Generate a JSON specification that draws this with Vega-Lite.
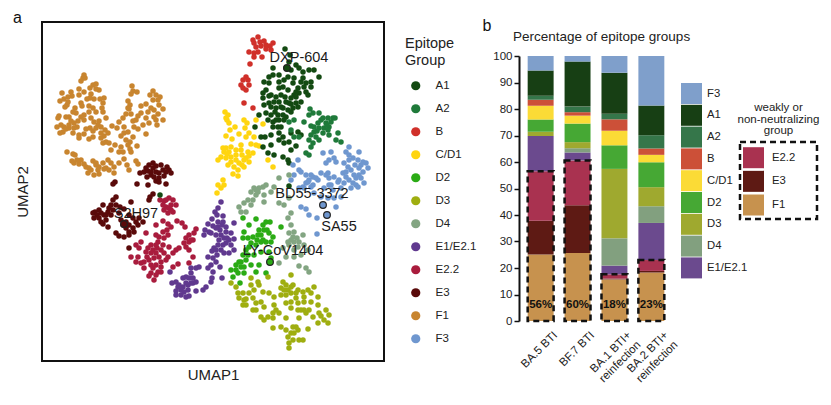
{
"$schema":"https://vega.github.io/schema/vega-lite/v6.json",
"description":"UMAP of antibody epitope groups and percentage of epitope groups per cohort.",
"padding":{"left":12,"top":9,"right":0,"bottom":0},
"background":"white",
"config":{"font":"Liberation Sans","axis":{"grid":false},"title":{"font":"Liberation Sans","fontWeight":"normal"}},
"spacing":4,
"resolve":{"scale":{"color":"independent"},"legend":{"color":"independent"}},
"datasets":{
"mabs":[
{"name":"DXP-604","x":286,"y":68,"g":"A1","lx":298,"ly":58},
{"name":"BD55-3372","x":322,"y":205,"g":"F3","lx":311,"ly":194},
{"name":"SA55","x":326,"y":215,"g":"F3","lx":338,"ly":227},
{"name":"LY-CoV1404","x":269,"y":262,"g":"D2","lx":282,"ly":251},
{"name":"S2H97","x":123,"y":224,"g":"E3","lx":135,"ly":214}
],
"points":[
{"x":83,"y":75,"g":"F1"},{"x":82,"y":78,"g":"F1"},{"x":80,"y":81,"g":"F1"},{"x":84,"y":78,"g":"F1"},{"x":92,"y":85,"g":"F1"},{"x":89,"y":88,"g":"F1"},{"x":95,"y":84,"g":"F1"},{"x":98,"y":90,"g":"F1"},{"x":95,"y":89,"g":"F1"},{"x":78,"y":89,"g":"F1"},{"x":83,"y":92,"g":"F1"},{"x":78,"y":95,"g":"F1"},{"x":61,"y":93,"g":"F1"},{"x":70,"y":92,"g":"F1"},{"x":71,"y":96,"g":"F1"},{"x":67,"y":97,"g":"F1"},{"x":63,"y":99,"g":"F1"},{"x":59,"y":101,"g":"F1"},{"x":66,"y":105,"g":"F1"},{"x":67,"y":102,"g":"F1"},{"x":64,"y":107,"g":"F1"},{"x":80,"y":103,"g":"F1"},{"x":81,"y":106,"g":"F1"},{"x":74,"y":108,"g":"F1"},{"x":90,"y":94,"g":"F1"},{"x":93,"y":99,"g":"F1"},{"x":89,"y":98,"g":"F1"},{"x":103,"y":98,"g":"F1"},{"x":102,"y":103,"g":"F1"},{"x":101,"y":108,"g":"F1"},{"x":88,"y":106,"g":"F1"},{"x":92,"y":108,"g":"F1"},{"x":83,"y":115,"g":"F1"},{"x":80,"y":117,"g":"F1"},{"x":77,"y":121,"g":"F1"},{"x":73,"y":123,"g":"F1"},{"x":68,"y":117,"g":"F1"},{"x":65,"y":117,"g":"F1"},{"x":58,"y":116,"g":"F1"},{"x":57,"y":118,"g":"F1"},{"x":70,"y":121,"g":"F1"},{"x":83,"y":120,"g":"F1"},{"x":88,"y":112,"g":"F1"},{"x":95,"y":112,"g":"F1"},{"x":102,"y":112,"g":"F1"},{"x":105,"y":118,"g":"F1"},{"x":98,"y":121,"g":"F1"},{"x":97,"y":125,"g":"F1"},{"x":100,"y":127,"g":"F1"},{"x":89,"y":128,"g":"F1"},{"x":85,"y":129,"g":"F1"},{"x":111,"y":126,"g":"F1"},{"x":107,"y":133,"g":"F1"},{"x":103,"y":136,"g":"F1"},{"x":100,"y":133,"g":"F1"},{"x":105,"y":142,"g":"F1"},{"x":102,"y":143,"g":"F1"},{"x":108,"y":143,"g":"F1"},{"x":92,"y":137,"g":"F1"},{"x":88,"y":139,"g":"F1"},{"x":83,"y":134,"g":"F1"},{"x":78,"y":135,"g":"F1"},{"x":78,"y":138,"g":"F1"},{"x":72,"y":133,"g":"F1"},{"x":68,"y":128,"g":"F1"},{"x":63,"y":127,"g":"F1"},{"x":60,"y":125,"g":"F1"},{"x":56,"y":127,"g":"F1"},{"x":62,"y":132,"g":"F1"},{"x":59,"y":133,"g":"F1"},{"x":65,"y":129,"g":"F1"},{"x":73,"y":128,"g":"F1"},
{"x":131,"y":86,"g":"F1"},{"x":132,"y":91,"g":"F1"},{"x":130,"y":94,"g":"F1"},{"x":136,"y":92,"g":"F1"},{"x":127,"y":101,"g":"F1"},{"x":129,"y":105,"g":"F1"},{"x":128,"y":109,"g":"F1"},{"x":130,"y":114,"g":"F1"},{"x":125,"y":114,"g":"F1"},{"x":122,"y":118,"g":"F1"},{"x":118,"y":122,"g":"F1"},{"x":116,"y":128,"g":"F1"},{"x":123,"y":127,"g":"F1"},{"x":123,"y":133,"g":"F1"},{"x":120,"y":136,"g":"F1"},{"x":127,"y":132,"g":"F1"},{"x":133,"y":127,"g":"F1"},{"x":132,"y":121,"g":"F1"},{"x":140,"y":106,"g":"F1"},{"x":145,"y":104,"g":"F1"},{"x":152,"y":91,"g":"F1"},{"x":155,"y":95,"g":"F1"},{"x":159,"y":97,"g":"F1"},{"x":149,"y":95,"g":"F1"},{"x":152,"y":100,"g":"F1"},{"x":157,"y":100,"g":"F1"},{"x":158,"y":105,"g":"F1"},{"x":162,"y":109,"g":"F1"},{"x":147,"y":112,"g":"F1"},{"x":153,"y":117,"g":"F1"},{"x":157,"y":114,"g":"F1"},{"x":162,"y":120,"g":"F1"},{"x":145,"y":118,"g":"F1"},{"x":142,"y":125,"g":"F1"},{"x":148,"y":123,"g":"F1"},{"x":156,"y":125,"g":"F1"},{"x":137,"y":116,"g":"F1"},{"x":137,"y":129,"g":"F1"},{"x":132,"y":137,"g":"F1"},{"x":129,"y":142,"g":"F1"},{"x":125,"y":140,"g":"F1"},{"x":127,"y":145,"g":"F1"},{"x":136,"y":146,"g":"F1"},{"x":129,"y":149,"g":"F1"},{"x":145,"y":134,"g":"F1"},{"x":114,"y":145,"g":"F1"},{"x":120,"y":147,"g":"F1"},{"x":118,"y":152,"g":"F1"},{"x":110,"y":150,"g":"F1"},{"x":122,"y":152,"g":"F1"},
{"x":66,"y":152,"g":"F1"},{"x":72,"y":154,"g":"F1"},{"x":74,"y":155,"g":"F1"},{"x":71,"y":161,"g":"F1"},{"x":73,"y":163,"g":"F1"},{"x":78,"y":164,"g":"F1"},{"x":83,"y":164,"g":"F1"},{"x":85,"y":167,"g":"F1"},{"x":92,"y":161,"g":"F1"},{"x":95,"y":165,"g":"F1"},{"x":98,"y":167,"g":"F1"},{"x":102,"y":163,"g":"F1"},{"x":107,"y":160,"g":"F1"},{"x":110,"y":163,"g":"F1"},{"x":113,"y":167,"g":"F1"},{"x":97,"y":170,"g":"F1"},{"x":90,"y":170,"g":"F1"},{"x":87,"y":173,"g":"F1"},{"x":93,"y":175,"g":"F1"},{"x":98,"y":174,"g":"F1"},{"x":105,"y":168,"g":"F1"},{"x":113,"y":173,"g":"F1"},{"x":118,"y":163,"g":"F1"},{"x":123,"y":159,"g":"F1"},{"x":126,"y":165,"g":"F1"},{"x":128,"y":170,"g":"F1"},{"x":135,"y":161,"g":"F1"},{"x":137,"y":164,"g":"F1"},{"x":130,"y":152,"g":"F1"},
{"x":75,"y":113,"g":"F1"},{"x":72,"y":112,"g":"F1"},{"x":90,"y":118,"g":"F1"},{"x":93,"y":122,"g":"F1"},{"x":95,"y":128,"g":"F1"},{"x":92,"y":131,"g":"F1"},{"x":100,"y":138,"g":"F1"},{"x":104,"y":130,"g":"F1"},{"x":76,"y":127,"g":"F1"},{"x":68,"y":125,"g":"F1"},{"x":86,"y":99,"g":"F1"},{"x":99,"y":99,"g":"F1"},{"x":127,"y":108,"g":"F1"},{"x":135,"y":120,"g":"F1"},{"x":150,"y":108,"g":"F1"},{"x":153,"y":110,"g":"F1"},{"x":155,"y":120,"g":"F1"},{"x":95,"y":163,"g":"F1"},{"x":88,"y":168,"g":"F1"},{"x":80,"y":160,"g":"F1"},{"x":76,"y":160,"g":"F1"},{"x":103,"y":169,"g":"F1"},{"x":108,"y":170,"g":"F1"},{"x":140,"y":113,"g":"F1"},
{"x":152,"y":163,"g":"E3"},{"x":148,"y":165,"g":"E3"},{"x":145,"y":168,"g":"E3"},{"x":139,"y":173,"g":"E3"},{"x":143,"y":172,"g":"E3"},{"x":147,"y":171,"g":"E3"},{"x":152,"y":168,"g":"E3"},{"x":155,"y":166,"g":"E3"},{"x":160,"y":165,"g":"E3"},{"x":166,"y":167,"g":"E3"},{"x":168,"y":170,"g":"E3"},{"x":170,"y":173,"g":"E3"},{"x":165,"y":172,"g":"E3"},{"x":162,"y":170,"g":"E3"},{"x":158,"y":173,"g":"E3"},{"x":155,"y":172,"g":"E3"},{"x":150,"y":175,"g":"E3"},{"x":146,"y":177,"g":"E3"},{"x":158,"y":178,"g":"E3"},{"x":155,"y":181,"g":"E3"},{"x":114,"y":182,"g":"E3"},{"x":112,"y":184,"g":"E3"},{"x":136,"y":184,"g":"E3"},{"x":147,"y":185,"g":"E3"},{"x":158,"y":182,"g":"E3"},{"x":165,"y":184,"g":"E3"},{"x":152,"y":194,"g":"E3"},{"x":149,"y":197,"g":"E3"},{"x":148,"y":200,"g":"E3"},
{"x":115,"y":197,"g":"E3"},{"x":112,"y":200,"g":"E3"},{"x":110,"y":205,"g":"E3"},{"x":115,"y":205,"g":"E3"},{"x":119,"y":207,"g":"E3"},{"x":130,"y":202,"g":"E3"},{"x":102,"y":205,"g":"E3"},{"x":98,"y":210,"g":"E3"},{"x":94,"y":212,"g":"E3"},{"x":92,"y":213,"g":"E3"},{"x":96,"y":215,"g":"E3"},{"x":93,"y":218,"g":"E3"},{"x":98,"y":218,"g":"E3"},{"x":103,"y":215,"g":"E3"},{"x":107,"y":212,"g":"E3"},{"x":110,"y":215,"g":"E3"},{"x":118,"y":213,"g":"E3"},{"x":123,"y":209,"g":"E3"},{"x":128,"y":215,"g":"E3"},{"x":132,"y":218,"g":"E3"},{"x":100,"y":222,"g":"E3"},{"x":105,"y":220,"g":"E3"},{"x":102,"y":224,"g":"E3"},{"x":107,"y":227,"g":"E3"},{"x":122,"y":225,"g":"E3"},{"x":125,"y":228,"g":"E3"},{"x":128,"y":232,"g":"E3"},{"x":132,"y":228,"g":"E3"},{"x":137,"y":225,"g":"E3"},{"x":142,"y":222,"g":"E3"},{"x":138,"y":218,"g":"E3"},{"x":115,"y":233,"g":"E3"},{"x":118,"y":236,"g":"E3"},{"x":123,"y":237,"g":"E3"},{"x":128,"y":235,"g":"E3"},{"x":133,"y":232,"g":"E3"},{"x":128,"y":248,"g":"E3"},
{"x":150,"y":172,"g":"E3"},{"x":153,"y":177,"g":"E3"},{"x":163,"y":176,"g":"E3"},{"x":108,"y":208,"g":"E3"},{"x":112,"y":210,"g":"E3"},{"x":100,"y":213,"g":"E3"},{"x":120,"y":220,"g":"E3"},{"x":125,"y":222,"g":"E3"},{"x":135,"y":222,"g":"E3"},{"x":128,"y":225,"g":"E3"},{"x":105,"y":215,"g":"E3"},
{"x":159,"y":200,"g":"E2.2"},{"x":163,"y":201,"g":"E2.2"},{"x":168,"y":198,"g":"E2.2"},{"x":172,"y":200,"g":"E2.2"},{"x":175,"y":205,"g":"E2.2"},{"x":170,"y":205,"g":"E2.2"},{"x":165,"y":207,"g":"E2.2"},{"x":162,"y":205,"g":"E2.2"},{"x":163,"y":210,"g":"E2.2"},{"x":167,"y":213,"g":"E2.2"},{"x":172,"y":212,"g":"E2.2"},{"x":168,"y":208,"g":"E2.2"},{"x":176,"y":221,"g":"E2.2"},{"x":181,"y":223,"g":"E2.2"},{"x":184,"y":227,"g":"E2.2"},{"x":155,"y":225,"g":"E2.2"},{"x":162,"y":221,"g":"E2.2"},{"x":167,"y":224,"g":"E2.2"},{"x":170,"y":227,"g":"E2.2"},{"x":166,"y":230,"g":"E2.2"},{"x":162,"y":232,"g":"E2.2"},{"x":167,"y":235,"g":"E2.2"},{"x":163,"y":238,"g":"E2.2"},{"x":158,"y":237,"g":"E2.2"},{"x":155,"y":235,"g":"E2.2"},{"x":157,"y":242,"g":"E2.2"},{"x":145,"y":233,"g":"E2.2"},{"x":195,"y":229,"g":"E2.2"},{"x":193,"y":233,"g":"E2.2"},{"x":188,"y":235,"g":"E2.2"},{"x":185,"y":238,"g":"E2.2"},{"x":188,"y":242,"g":"E2.2"},{"x":185,"y":247,"g":"E2.2"},{"x":188,"y":250,"g":"E2.2"},{"x":192,"y":257,"g":"E2.2"},{"x":192,"y":240,"g":"E2.2"},{"x":140,"y":242,"g":"E2.2"},{"x":135,"y":245,"g":"E2.2"},{"x":138,"y":248,"g":"E2.2"},{"x":137,"y":257,"g":"E2.2"},{"x":130,"y":257,"g":"E2.2"},{"x":135,"y":262,"g":"E2.2"},{"x":140,"y":263,"g":"E2.2"},{"x":147,"y":248,"g":"E2.2"},{"x":152,"y":250,"g":"E2.2"},{"x":156,"y":248,"g":"E2.2"},{"x":160,"y":250,"g":"E2.2"},{"x":155,"y":253,"g":"E2.2"},{"x":150,"y":253,"g":"E2.2"},{"x":146,"y":257,"g":"E2.2"},{"x":143,"y":262,"g":"E2.2"},{"x":148,"y":260,"g":"E2.2"},{"x":153,"y":258,"g":"E2.2"},{"x":158,"y":257,"g":"E2.2"},{"x":163,"y":253,"g":"E2.2"},{"x":168,"y":247,"g":"E2.2"},{"x":175,"y":250,"g":"E2.2"},{"x":178,"y":248,"g":"E2.2"},{"x":172,"y":253,"g":"E2.2"},{"x":167,"y":257,"g":"E2.2"},{"x":160,"y":262,"g":"E2.2"},{"x":155,"y":265,"g":"E2.2"},{"x":150,"y":265,"g":"E2.2"},{"x":143,"y":268,"g":"E2.2"},{"x":160,"y":267,"g":"E2.2"},{"x":157,"y":272,"g":"E2.2"},{"x":150,"y":273,"g":"E2.2"},{"x":155,"y":275,"g":"E2.2"},{"x":148,"y":276,"g":"E2.2"},{"x":153,"y":280,"g":"E2.2"},{"x":172,"y":267,"g":"E2.2"},{"x":177,"y":264,"g":"E2.2"},{"x":160,"y":272,"g":"E2.2"},{"x":188,"y":263,"g":"E2.2"},
{"x":165,"y":200,"g":"E2.2"},{"x":170,"y":210,"g":"E2.2"},{"x":150,"y":245,"g":"E2.2"},{"x":155,"y":245,"g":"E2.2"},{"x":162,"y":245,"g":"E2.2"},{"x":165,"y":260,"g":"E2.2"},{"x":152,"y":268,"g":"E2.2"},{"x":145,"y":252,"g":"E2.2"},{"x":183,"y":243,"g":"E2.2"},{"x":190,"y":240,"g":"E2.2"},
{"x":220,"y":202,"g":"E1/E2.1"},{"x":217,"y":208,"g":"E1/E2.1"},{"x":214,"y":212,"g":"E1/E2.1"},{"x":216,"y":215,"g":"E1/E2.1"},{"x":222,"y":216,"g":"E1/E2.1"},{"x":211,"y":219,"g":"E1/E2.1"},{"x":217,"y":222,"g":"E1/E2.1"},{"x":207,"y":224,"g":"E1/E2.1"},{"x":212,"y":226,"g":"E1/E2.1"},{"x":204,"y":230,"g":"E1/E2.1"},{"x":217,"y":227,"g":"E1/E2.1"},{"x":221,"y":225,"g":"E1/E2.1"},{"x":225,"y":227,"g":"E1/E2.1"},{"x":219,"y":230,"g":"E1/E2.1"},{"x":225,"y":232,"g":"E1/E2.1"},{"x":230,"y":233,"g":"E1/E2.1"},{"x":233,"y":223,"g":"E1/E2.1"},{"x":203,"y":235,"g":"E1/E2.1"},{"x":210,"y":233,"g":"E1/E2.1"},{"x":215,"y":235,"g":"E1/E2.1"},{"x":220,"y":235,"g":"E1/E2.1"},{"x":223,"y":238,"g":"E1/E2.1"},{"x":218,"y":240,"g":"E1/E2.1"},{"x":225,"y":243,"g":"E1/E2.1"},{"x":228,"y":240,"g":"E1/E2.1"},{"x":230,"y":245,"g":"E1/E2.1"},{"x":217,"y":245,"g":"E1/E2.1"},{"x":213,"y":248,"g":"E1/E2.1"},{"x":211,"y":251,"g":"E1/E2.1"},{"x":215,"y":250,"g":"E1/E2.1"},{"x":220,"y":250,"g":"E1/E2.1"},{"x":223,"y":253,"g":"E1/E2.1"},{"x":228,"y":253,"g":"E1/E2.1"},{"x":233,"y":250,"g":"E1/E2.1"},{"x":233,"y":239,"g":"E1/E2.1"},{"x":207,"y":257,"g":"E1/E2.1"},{"x":212,"y":258,"g":"E1/E2.1"},{"x":215,"y":262,"g":"E1/E2.1"},{"x":210,"y":265,"g":"E1/E2.1"},{"x":207,"y":268,"g":"E1/E2.1"},{"x":212,"y":272,"g":"E1/E2.1"},{"x":198,"y":267,"g":"E1/E2.1"},{"x":195,"y":268,"g":"E1/E2.1"},{"x":219,"y":267,"g":"E1/E2.1"},{"x":221,"y":278,"g":"E1/E2.1"},{"x":211,"y":278,"g":"E1/E2.1"},{"x":210,"y":282,"g":"E1/E2.1"},{"x":169,"y":272,"g":"E1/E2.1"},{"x":190,"y":268,"g":"E1/E2.1"},{"x":190,"y":273,"g":"E1/E2.1"},{"x":185,"y":277,"g":"E1/E2.1"},{"x":188,"y":278,"g":"E1/E2.1"},{"x":192,"y":278,"g":"E1/E2.1"},{"x":195,"y":282,"g":"E1/E2.1"},{"x":192,"y":283,"g":"E1/E2.1"},{"x":182,"y":278,"g":"E1/E2.1"},{"x":175,"y":282,"g":"E1/E2.1"},{"x":171,"y":283,"g":"E1/E2.1"},{"x":177,"y":287,"g":"E1/E2.1"},{"x":175,"y":291,"g":"E1/E2.1"},{"x":182,"y":287,"g":"E1/E2.1"},{"x":187,"y":285,"g":"E1/E2.1"},{"x":187,"y":290,"g":"E1/E2.1"},{"x":195,"y":291,"g":"E1/E2.1"},{"x":202,"y":290,"g":"E1/E2.1"},{"x":205,"y":287,"g":"E1/E2.1"},{"x":188,"y":296,"g":"E1/E2.1"},{"x":185,"y":297,"g":"E1/E2.1"},{"x":180,"y":295,"g":"E1/E2.1"},{"x":175,"y":295,"g":"E1/E2.1"},{"x":180,"y":290,"g":"E1/E2.1"},
{"x":222,"y":222,"g":"E1/E2.1"},{"x":215,"y":228,"g":"E1/E2.1"},{"x":222,"y":245,"g":"E1/E2.1"},{"x":208,"y":232,"g":"E1/E2.1"},{"x":226,"y":238,"g":"E1/E2.1"},{"x":216,"y":255,"g":"E1/E2.1"},{"x":190,"y":283,"g":"E1/E2.1"},{"x":185,"y":283,"g":"E1/E2.1"},{"x":178,"y":285,"g":"E1/E2.1"},{"x":183,"y":292,"g":"E1/E2.1"},
{"x":224,"y":112,"g":"C/D1"},{"x":227,"y":115,"g":"C/D1"},{"x":226,"y":120,"g":"C/D1"},{"x":228,"y":123,"g":"C/D1"},{"x":225,"y":118,"g":"C/D1"},{"x":243,"y":120,"g":"C/D1"},{"x":246,"y":123,"g":"C/D1"},{"x":244,"y":128,"g":"C/D1"},{"x":248,"y":133,"g":"C/D1"},{"x":253,"y":137,"g":"C/D1"},{"x":255,"y":120,"g":"C/D1"},{"x":262,"y":124,"g":"C/D1"},{"x":234,"y":127,"g":"C/D1"},{"x":229,"y":130,"g":"C/D1"},{"x":225,"y":136,"g":"C/D1"},{"x":231,"y":139,"g":"C/D1"},{"x":238,"y":134,"g":"C/D1"},{"x":245,"y":137,"g":"C/D1"},{"x":250,"y":144,"g":"C/D1"},{"x":255,"y":145,"g":"C/D1"},{"x":258,"y":146,"g":"C/D1"},{"x":240,"y":145,"g":"C/D1"},{"x":230,"y":147,"g":"C/D1"},{"x":222,"y":148,"g":"C/D1"},{"x":223,"y":152,"g":"C/D1"},{"x":228,"y":152,"g":"C/D1"},{"x":220,"y":157,"g":"C/D1"},{"x":217,"y":160,"g":"C/D1"},{"x":225,"y":158,"g":"C/D1"},{"x":230,"y":157,"g":"C/D1"},{"x":235,"y":155,"g":"C/D1"},{"x":241,"y":155,"g":"C/D1"},{"x":247,"y":152,"g":"C/D1"},{"x":252,"y":153,"g":"C/D1"},{"x":230,"y":162,"g":"C/D1"},{"x":227,"y":165,"g":"C/D1"},{"x":233,"y":167,"g":"C/D1"},{"x":238,"y":163,"g":"C/D1"},{"x":243,"y":160,"g":"C/D1"},{"x":248,"y":162,"g":"C/D1"},{"x":237,"y":170,"g":"C/D1"},{"x":232,"y":174,"g":"C/D1"},{"x":237,"y":176,"g":"C/D1"},{"x":243,"y":167,"g":"C/D1"},{"x":267,"y":160,"g":"C/D1"},{"x":272,"y":167,"g":"C/D1"},{"x":222,"y":180,"g":"C/D1"},{"x":217,"y":185,"g":"C/D1"},{"x":223,"y":185,"g":"C/D1"},{"x":220,"y":188,"g":"C/D1"},{"x":216,"y":193,"g":"C/D1"},
{"x":235,"y":150,"g":"C/D1"},{"x":240,"y":150,"g":"C/D1"},{"x":245,"y":158,"g":"C/D1"},{"x":235,"y":160,"g":"C/D1"},{"x":225,"y":148,"g":"C/D1"},{"x":241,"y":165,"g":"C/D1"},{"x":226,"y":154,"g":"C/D1"},{"x":248,"y":156,"g":"C/D1"},
{"x":257,"y":37,"g":"B"},{"x":252,"y":40,"g":"B"},{"x":253,"y":43,"g":"B"},{"x":259,"y":42,"g":"B"},{"x":263,"y":41,"g":"B"},{"x":272,"y":43,"g":"B"},{"x":269,"y":46,"g":"B"},{"x":265,"y":45,"g":"B"},{"x":260,"y":46,"g":"B"},{"x":255,"y":47,"g":"B"},{"x":248,"y":52,"g":"B"},{"x":253,"y":53,"g":"B"},{"x":257,"y":52,"g":"B"},{"x":261,"y":57,"g":"B"},{"x":270,"y":50,"g":"B"},{"x":265,"y":49,"g":"B"},{"x":253,"y":57,"g":"B"},{"x":249,"y":64,"g":"B"},{"x":245,"y":77,"g":"B"},{"x":242,"y":80,"g":"B"},{"x":240,"y":85,"g":"B"},{"x":242,"y":88,"g":"B"},{"x":245,"y":90,"g":"B"},{"x":248,"y":85,"g":"B"},{"x":247,"y":80,"g":"B"},{"x":243,"y":103,"g":"B"},{"x":252,"y":108,"g":"B"},
{"x":284,"y":49,"g":"A1"},{"x":289,"y":55,"g":"A1"},{"x":288,"y":62,"g":"A1"},{"x":285,"y":68,"g":"A1"},{"x":278,"y":75,"g":"A1"},{"x":272,"y":68,"g":"A1"},{"x":268,"y":77,"g":"A1"},{"x":263,"y":82,"g":"A1"},{"x":268,"y":83,"g":"A1"},{"x":265,"y":90,"g":"A1"},{"x":262,"y":93,"g":"A1"},{"x":272,"y":75,"g":"A1"},{"x":290,"y":70,"g":"A1"},{"x":295,"y":65,"g":"A1"},{"x":298,"y":68,"g":"A1"},{"x":302,"y":72,"g":"A1"},{"x":308,"y":70,"g":"A1"},{"x":313,"y":70,"g":"A1"},{"x":318,"y":77,"g":"A1"},{"x":310,"y":82,"g":"A1"},{"x":305,"y":83,"g":"A1"},{"x":300,"y":82,"g":"A1"},{"x":293,"y":78,"g":"A1"},{"x":287,"y":77,"g":"A1"},{"x":292,"y":83,"g":"A1"},{"x":278,"y":88,"g":"A1"},{"x":282,"y":87,"g":"A1"},{"x":297,"y":88,"g":"A1"},{"x":303,"y":87,"g":"A1"},{"x":298,"y":93,"g":"A1"},{"x":293,"y":95,"g":"A1"},{"x":290,"y":98,"g":"A1"},{"x":288,"y":103,"g":"A1"},{"x":285,"y":102,"g":"A1"},{"x":278,"y":102,"g":"A1"},{"x":273,"y":102,"g":"A1"},{"x":268,"y":103,"g":"A1"},{"x":263,"y":105,"g":"A1"},{"x":262,"y":98,"g":"A1"},{"x":270,"y":107,"g":"A1"},{"x":275,"y":108,"g":"A1"},{"x":282,"y":108,"g":"A1"},{"x":292,"y":108,"g":"A1"},{"x":297,"y":107,"g":"A1"},{"x":300,"y":102,"g":"A1"},{"x":295,"y":103,"g":"A1"},{"x":305,"y":92,"g":"A1"},{"x":307,"y":95,"g":"A1"},{"x":310,"y":87,"g":"A1"},{"x":265,"y":113,"g":"A1"},{"x":270,"y":115,"g":"A1"},{"x":277,"y":115,"g":"A1"},{"x":282,"y":115,"g":"A1"},{"x":287,"y":110,"g":"A1"},{"x":290,"y":112,"g":"A1"},{"x":267,"y":120,"g":"A1"},{"x":272,"y":122,"g":"A1"},{"x":278,"y":120,"g":"A1"},{"x":285,"y":117,"g":"A1"},{"x":272,"y":127,"g":"A1"},{"x":277,"y":127,"g":"A1"},{"x":283,"y":120,"g":"A1"},{"x":258,"y":115,"g":"A1"},{"x":254,"y":127,"g":"A1"},{"x":260,"y":137,"g":"A1"},{"x":264,"y":137,"g":"A1"},{"x":270,"y":135,"g":"A1"},{"x":278,"y":133,"g":"A1"},{"x":282,"y":137,"g":"A1"},{"x":290,"y":133,"g":"A1"},{"x":297,"y":132,"g":"A1"},{"x":300,"y":135,"g":"A1"},{"x":288,"y":142,"g":"A1"},{"x":283,"y":143,"g":"A1"},{"x":278,"y":140,"g":"A1"},{"x":270,"y":145,"g":"A1"},{"x":262,"y":147,"g":"A1"},{"x":267,"y":153,"g":"A1"},{"x":273,"y":155,"g":"A1"},{"x":282,"y":157,"g":"A1"},{"x":290,"y":150,"g":"A1"},{"x":295,"y":146,"g":"A1"},{"x":287,"y":160,"g":"A1"},{"x":288,"y":163,"g":"A1"},{"x":288,"y":186,"g":"A1"},{"x":159,"y":195,"g":"A1"},
{"x":280,"y":95,"g":"A1"},{"x":284,"y":97,"g":"A1"},{"x":275,"y":97,"g":"A1"},{"x":280,"y":107,"g":"A1"},{"x":287,"y":90,"g":"A1"},{"x":295,"y":92,"g":"A1"},{"x":283,"y":80,"g":"A1"},{"x":278,"y":82,"g":"A1"},{"x":270,"y":95,"g":"A1"},{"x":268,"y":96,"g":"A1"},{"x":295,"y":97,"g":"A1"},{"x":290,"y":104,"g":"A1"},{"x":275,"y":120,"g":"A1"},{"x":280,"y":127,"g":"A1"},{"x":302,"y":78,"g":"A1"},{"x":274,"y":112,"g":"A1"},
{"x":309,"y":109,"g":"A2"},{"x":312,"y":113,"g":"A2"},{"x":308,"y":115,"g":"A2"},{"x":318,"y":113,"g":"A2"},{"x":320,"y":120,"g":"A2"},{"x":327,"y":118,"g":"A2"},{"x":332,"y":118,"g":"A2"},{"x":334,"y":118,"g":"A2"},{"x":330,"y":122,"g":"A2"},{"x":325,"y":123,"g":"A2"},{"x":328,"y":127,"g":"A2"},{"x":323,"y":128,"g":"A2"},{"x":317,"y":123,"g":"A2"},{"x":313,"y":127,"g":"A2"},{"x":310,"y":126,"g":"A2"},{"x":313,"y":132,"g":"A2"},{"x":310,"y":135,"g":"A2"},{"x":315,"y":137,"g":"A2"},{"x":322,"y":133,"g":"A2"},{"x":327,"y":130,"g":"A2"},{"x":303,"y":122,"g":"A2"},{"x":293,"y":120,"g":"A2"},{"x":288,"y":122,"g":"A2"},{"x":308,"y":140,"g":"A2"},{"x":312,"y":143,"g":"A2"},{"x":310,"y":147,"g":"A2"},{"x":318,"y":140,"g":"A2"},{"x":328,"y":135,"g":"A2"},{"x":337,"y":133,"g":"A2"},{"x":335,"y":140,"g":"A2"},{"x":340,"y":142,"g":"A2"},{"x":305,"y":153,"g":"A2"},{"x":308,"y":155,"g":"A2"},{"x":290,"y":130,"g":"A2"},{"x":293,"y":137,"g":"A2"},{"x":298,"y":137,"g":"A2"},{"x":322,"y":118,"g":"A2"},{"x":326,"y":125,"g":"A2"},{"x":318,"y":128,"g":"A2"},{"x":316,"y":131,"g":"A2"},
{"x":348,"y":147,"g":"F3"},{"x":345,"y":152,"g":"F3"},{"x":348,"y":155,"g":"F3"},{"x":352,"y":158,"g":"F3"},{"x":358,"y":152,"g":"F3"},{"x":357,"y":160,"g":"F3"},{"x":360,"y":165,"g":"F3"},{"x":365,"y":163,"g":"F3"},{"x":367,"y":168,"g":"F3"},{"x":362,"y":172,"g":"F3"},{"x":358,"y":175,"g":"F3"},{"x":353,"y":175,"g":"F3"},{"x":350,"y":170,"g":"F3"},{"x":347,"y":167,"g":"F3"},{"x":343,"y":163,"g":"F3"},{"x":330,"y":152,"g":"F3"},{"x":322,"y":153,"g":"F3"},{"x":333,"y":158,"g":"F3"},{"x":328,"y":160,"g":"F3"},{"x":325,"y":163,"g":"F3"},{"x":335,"y":162,"g":"F3"},{"x":342,"y":173,"g":"F3"},{"x":345,"y":177,"g":"F3"},{"x":352,"y":183,"g":"F3"},{"x":357,"y":187,"g":"F3"},{"x":363,"y":183,"g":"F3"},{"x":350,"y":188,"g":"F3"},{"x":343,"y":183,"g":"F3"},{"x":338,"y":180,"g":"F3"},{"x":333,"y":177,"g":"F3"},{"x":327,"y":173,"g":"F3"},{"x":328,"y":178,"g":"F3"},{"x":320,"y":173,"g":"F3"},{"x":317,"y":180,"g":"F3"},{"x":312,"y":177,"g":"F3"},{"x":308,"y":180,"g":"F3"},{"x":305,"y":183,"g":"F3"},{"x":302,"y":187,"g":"F3"},{"x":310,"y":187,"g":"F3"},{"x":298,"y":170,"g":"F3"},{"x":293,"y":175,"g":"F3"},{"x":290,"y":180,"g":"F3"},{"x":297,"y":160,"g":"F3"},{"x":292,"y":165,"g":"F3"},{"x":300,"y":172,"g":"F3"},{"x":310,"y":175,"g":"F3"},{"x":307,"y":182,"g":"F3"},{"x":303,"y":188,"g":"F3"},{"x":312,"y":185,"g":"F3"},{"x":325,"y":175,"g":"F3"},{"x":328,"y":185,"g":"F3"},{"x":323,"y":188,"g":"F3"},{"x":332,"y":190,"g":"F3"},{"x":337,"y":182,"g":"F3"},{"x":348,"y":180,"g":"F3"},{"x":355,"y":185,"g":"F3"},{"x":333,"y":198,"g":"F3"},{"x":340,"y":197,"g":"F3"},{"x":327,"y":198,"g":"F3"},{"x":320,"y":197,"g":"F3"},{"x":313,"y":193,"g":"F3"},{"x":300,"y":207,"g":"F3"},{"x":305,"y":209,"g":"F3"},{"x":308,"y":215,"g":"F3"},{"x":316,"y":218,"g":"F3"},{"x":316,"y":234,"g":"F3"},{"x":298,"y":188,"g":"F3"},{"x":335,"y":207,"g":"F3"},
{"x":354,"y":165,"g":"F3"},{"x":358,"y":168,"g":"F3"},{"x":362,"y":162,"g":"F3"},{"x":355,"y":178,"g":"F3"},{"x":345,"y":172,"g":"F3"},{"x":330,"y":185,"g":"F3"},{"x":315,"y":178,"g":"F3"},{"x":305,"y":175,"g":"F3"},{"x":340,"y":188,"g":"F3"},{"x":360,"y":178,"g":"F3"},{"x":348,"y":160,"g":"F3"},
{"x":278,"y":178,"g":"D4"},{"x":288,"y":175,"g":"D4"},{"x":273,"y":187,"g":"D4"},{"x":265,"y":185,"g":"D4"},{"x":262,"y":187,"g":"D4"},{"x":253,"y":188,"g":"D4"},{"x":250,"y":192,"g":"D4"},{"x":255,"y":195,"g":"D4"},{"x":252,"y":200,"g":"D4"},{"x":247,"y":200,"g":"D4"},{"x":250,"y":205,"g":"D4"},{"x":243,"y":203,"g":"D4"},{"x":238,"y":207,"g":"D4"},{"x":240,"y":212,"g":"D4"},{"x":245,"y":212,"g":"D4"},{"x":263,"y":202,"g":"D4"},{"x":263,"y":195,"g":"D4"},{"x":270,"y":192,"g":"D4"},{"x":257,"y":192,"g":"D4"},{"x":278,"y":203,"g":"D4"},{"x":283,"y":205,"g":"D4"},{"x":288,"y":198,"g":"D4"},{"x":290,"y":213,"g":"D4"},{"x":287,"y":218,"g":"D4"},{"x":290,"y":225,"g":"D4"},{"x":293,"y":232,"g":"D4"},{"x":288,"y":233,"g":"D4"},{"x":292,"y":237,"g":"D4"},{"x":287,"y":242,"g":"D4"},{"x":282,"y":248,"g":"D4"},{"x":288,"y":245,"g":"D4"},{"x":293,"y":242,"g":"D4"},{"x":302,"y":235,"g":"D4"},{"x":298,"y":242,"g":"D4"},{"x":303,"y":245,"g":"D4"},{"x":307,"y":250,"g":"D4"},{"x":300,"y":255,"g":"D4"},{"x":293,"y":250,"g":"D4"},{"x":285,"y":257,"g":"D4"},{"x":278,"y":263,"g":"D4"},{"x":298,"y":266,"g":"D4"},{"x":305,"y":268,"g":"D4"},{"x":308,"y":272,"g":"D4"},{"x":293,"y":257,"g":"D4"},{"x":258,"y":188,"g":"D4"},{"x":255,"y":190,"g":"D4"},{"x":296,"y":238,"g":"D4"},{"x":290,"y":240,"g":"D4"},{"x":297,"y":247,"g":"D4"},
{"x":242,"y":218,"g":"D2"},{"x":255,"y":219,"g":"D2"},{"x":248,"y":225,"g":"D2"},{"x":243,"y":232,"g":"D2"},{"x":242,"y":238,"g":"D2"},{"x":247,"y":238,"g":"D2"},{"x":252,"y":237,"g":"D2"},{"x":257,"y":235,"g":"D2"},{"x":258,"y":230,"g":"D2"},{"x":265,"y":222,"g":"D2"},{"x":269,"y":222,"g":"D2"},{"x":263,"y":230,"g":"D2"},{"x":260,"y":235,"g":"D2"},{"x":268,"y":233,"g":"D2"},{"x":272,"y":237,"g":"D2"},{"x":280,"y":227,"g":"D2"},{"x":270,"y":242,"g":"D2"},{"x":265,"y":242,"g":"D2"},{"x":260,"y":242,"g":"D2"},{"x":255,"y":245,"g":"D2"},{"x":250,"y":243,"g":"D2"},{"x":245,"y":250,"g":"D2"},{"x":242,"y":255,"g":"D2"},{"x":247,"y":255,"g":"D2"},{"x":253,"y":255,"g":"D2"},{"x":260,"y":252,"g":"D2"},{"x":268,"y":252,"g":"D2"},{"x":270,"y":258,"g":"D2"},{"x":245,"y":260,"g":"D2"},{"x":238,"y":262,"g":"D2"},{"x":235,"y":265,"g":"D2"},{"x":240,"y":267,"g":"D2"},{"x":243,"y":267,"g":"D2"},{"x":230,"y":270,"g":"D2"},{"x":232,"y":277,"g":"D2"},{"x":237,"y":273,"g":"D2"},{"x":243,"y":273,"g":"D2"},{"x":255,"y":272,"g":"D2"},{"x":258,"y":265,"g":"D2"},{"x":250,"y":265,"g":"D2"},{"x":265,"y":273,"g":"D2"},{"x":239,"y":283,"g":"D2"},{"x":262,"y":225,"g":"D2"},{"x":266,"y":230,"g":"D2"},{"x":256,"y":240,"g":"D2"},{"x":248,"y":247,"g":"D2"},{"x":240,"y":262,"g":"D2"},{"x":235,"y":270,"g":"D2"},{"x":262,"y":240,"g":"D2"},
{"x":250,"y":278,"g":"D3"},{"x":257,"y":282,"g":"D3"},{"x":267,"y":277,"g":"D3"},{"x":230,"y":283,"g":"D3"},{"x":235,"y":287,"g":"D3"},{"x":250,"y":285,"g":"D3"},{"x":258,"y":285,"g":"D3"},{"x":253,"y":290,"g":"D3"},{"x":248,"y":293,"g":"D3"},{"x":237,"y":293,"g":"D3"},{"x":242,"y":293,"g":"D3"},{"x":243,"y":300,"g":"D3"},{"x":242,"y":305,"g":"D3"},{"x":245,"y":305,"g":"D3"},{"x":252,"y":298,"g":"D3"},{"x":262,"y":292,"g":"D3"},{"x":268,"y":293,"g":"D3"},{"x":273,"y":297,"g":"D3"},{"x":282,"y":282,"g":"D3"},{"x":290,"y":275,"g":"D3"},{"x":285,"y":285,"g":"D3"},{"x":292,"y":285,"g":"D3"},{"x":280,"y":288,"g":"D3"},{"x":287,"y":290,"g":"D3"},{"x":290,"y":293,"g":"D3"},{"x":297,"y":290,"g":"D3"},{"x":302,"y":292,"g":"D3"},{"x":307,"y":290,"g":"D3"},{"x":313,"y":287,"g":"D3"},{"x":310,"y":293,"g":"D3"},{"x":317,"y":297,"g":"D3"},{"x":295,"y":298,"g":"D3"},{"x":290,"y":302,"g":"D3"},{"x":285,"y":303,"g":"D3"},{"x":297,"y":303,"g":"D3"},{"x":303,"y":302,"g":"D3"},{"x":310,"y":302,"g":"D3"},{"x":317,"y":305,"g":"D3"},{"x":303,"y":310,"g":"D3"},{"x":297,"y":310,"g":"D3"},{"x":290,"y":308,"g":"D3"},{"x":260,"y":302,"g":"D3"},{"x":255,"y":303,"g":"D3"},{"x":263,"y":307,"g":"D3"},{"x":252,"y":310,"g":"D3"},{"x":273,"y":305,"g":"D3"},{"x":278,"y":313,"g":"D3"},{"x":272,"y":313,"g":"D3"},{"x":267,"y":317,"g":"D3"},{"x":260,"y":317,"g":"D3"},{"x":263,"y":320,"g":"D3"},{"x":272,"y":318,"g":"D3"},{"x":285,"y":318,"g":"D3"},{"x":298,"y":318,"g":"D3"},{"x":305,"y":313,"g":"D3"},{"x":312,"y":317,"g":"D3"},{"x":318,"y":313,"g":"D3"},{"x":325,"y":310,"g":"D3"},{"x":328,"y":315,"g":"D3"},{"x":323,"y":320,"g":"D3"},{"x":327,"y":323,"g":"D3"},{"x":317,"y":323,"g":"D3"},{"x":292,"y":327,"g":"D3"},{"x":280,"y":327,"g":"D3"},{"x":272,"y":328,"g":"D3"},{"x":285,"y":330,"g":"D3"},{"x":290,"y":333,"g":"D3"},{"x":297,"y":330,"g":"D3"},{"x":307,"y":329,"g":"D3"},{"x":287,"y":337,"g":"D3"},{"x":292,"y":340,"g":"D3"},{"x":298,"y":340,"g":"D3"},{"x":302,"y":340,"g":"D3"},{"x":288,"y":343,"g":"D3"},{"x":288,"y":348,"g":"D3"},{"x":255,"y":310,"g":"D3"},
{"x":285,"y":295,"g":"D3"},{"x":280,"y":295,"g":"D3"},{"x":290,"y":287,"g":"D3"},{"x":283,"y":290,"g":"D3"},{"x":295,"y":293,"g":"D3"},{"x":303,"y":297,"g":"D3"},{"x":308,"y":310,"g":"D3"},{"x":320,"y":316,"g":"D3"},{"x":293,"y":333,"g":"D3"},{"x":295,"y":327,"g":"D3"},{"x":300,"y":310,"g":"D3"},{"x":275,"y":310,"g":"D3"},{"x":245,"y":299,"g":"D3"},{"x":238,"y":298,"g":"D3"}
],
"shares":[
{"bar":"BA.5 BTI","g":"F1","o":1,"pct":25.1},{"bar":"BA.5 BTI","g":"E3","o":2,"pct":12.7},{"bar":"BA.5 BTI","g":"E2.2","o":3,"pct":18.7},{"bar":"BA.5 BTI","g":"E1/E2.1","o":4,"pct":13.3},{"bar":"BA.5 BTI","g":"D3","o":6,"pct":1.6},{"bar":"BA.5 BTI","g":"D2","o":7,"pct":4.6},{"bar":"BA.5 BTI","g":"C/D1","o":8,"pct":5.2},{"bar":"BA.5 BTI","g":"B","o":9,"pct":2.3},{"bar":"BA.5 BTI","g":"A2","o":10,"pct":1.5},{"bar":"BA.5 BTI","g":"A1","o":11,"pct":9.5},{"bar":"BA.5 BTI","g":"F3","o":12,"pct":5.5},
{"bar":"BF.7 BTI","g":"F1","o":1,"pct":25.7},{"bar":"BF.7 BTI","g":"E3","o":2,"pct":18},{"bar":"BF.7 BTI","g":"E2.2","o":3,"pct":16.9},{"bar":"BF.7 BTI","g":"E1/E2.1","o":4,"pct":3},{"bar":"BF.7 BTI","g":"D4","o":5,"pct":1.6},{"bar":"BF.7 BTI","g":"D3","o":6,"pct":2.3},{"bar":"BF.7 BTI","g":"D2","o":7,"pct":7},{"bar":"BF.7 BTI","g":"C/D1","o":8,"pct":3},{"bar":"BF.7 BTI","g":"B","o":9,"pct":1.3},{"bar":"BF.7 BTI","g":"A2","o":10,"pct":2.1},{"bar":"BF.7 BTI","g":"A1","o":11,"pct":17},{"bar":"BF.7 BTI","g":"F3","o":12,"pct":2.1},
{"bar":"BA.1 BTI+\nreinfection","g":"F1","o":1,"pct":15.7},{"bar":"BA.1 BTI+\nreinfection","g":"E3","o":2,"pct":0.3},{"bar":"BA.1 BTI+\nreinfection","g":"E2.2","o":3,"pct":1.6},{"bar":"BA.1 BTI+\nreinfection","g":"E1/E2.1","o":4,"pct":3.3},{"bar":"BA.1 BTI+\nreinfection","g":"D4","o":5,"pct":10.3},{"bar":"BA.1 BTI+\nreinfection","g":"D3","o":6,"pct":26.2},{"bar":"BA.1 BTI+\nreinfection","g":"D2","o":7,"pct":8.9},{"bar":"BA.1 BTI+\nreinfection","g":"C/D1","o":8,"pct":5.5},{"bar":"BA.1 BTI+\nreinfection","g":"B","o":9,"pct":4.3},{"bar":"BA.1 BTI+\nreinfection","g":"A2","o":10,"pct":2.1},{"bar":"BA.1 BTI+\nreinfection","g":"A1","o":11,"pct":15.5},{"bar":"BA.1 BTI+\nreinfection","g":"F3","o":12,"pct":6.3},
{"bar":"BA.2 BTI+\nreinfection","g":"F1","o":1,"pct":18.3},{"bar":"BA.2 BTI+\nreinfection","g":"E3","o":2,"pct":0.6},{"bar":"BA.2 BTI+\nreinfection","g":"E2.2","o":3,"pct":4.1},{"bar":"BA.2 BTI+\nreinfection","g":"E1/E2.1","o":4,"pct":14},{"bar":"BA.2 BTI+\nreinfection","g":"D4","o":5,"pct":6.3},{"bar":"BA.2 BTI+\nreinfection","g":"D3","o":6,"pct":7.2},{"bar":"BA.2 BTI+\nreinfection","g":"D2","o":7,"pct":9.4},{"bar":"BA.2 BTI+\nreinfection","g":"C/D1","o":8,"pct":2.8},{"bar":"BA.2 BTI+\nreinfection","g":"B","o":9,"pct":2.4},{"bar":"BA.2 BTI+\nreinfection","g":"A2","o":10,"pct":5},{"bar":"BA.2 BTI+\nreinfection","g":"A1","o":11,"pct":11.2},{"bar":"BA.2 BTI+\nreinfection","g":"F3","o":12,"pct":18.7}
],
"weak":[
{"bar":"BA.5 BTI","weak":56.5,"label":"56%"},
{"bar":"BF.7 BTI","weak":60.6,"label":"60%"},
{"bar":"BA.1 BTI+\nreinfection","weak":17.6,"label":"18%"},
{"bar":"BA.2 BTI+\nreinfection","weak":23,"label":"23%"}
]
},
"hconcat":[
{
"width":342,"height":339,
"view":{"stroke":"#111","strokeWidth":2},
"title":{"text":"a","anchor":"start","frame":"group","fontSize":16,"color":"#111","dx":-29,"offset":-4},
"encoding":{
"x":{"field":"x","type":"quantitative","scale":{"domain":[41,383],"nice":false,"zero":false},"axis":{"title":"UMAP1","titleFontSize":15,"titleFontWeight":"normal","titleColor":"#222","labels":false,"ticks":false,"domain":false,"titlePadding":6}},
"y":{"field":"y","type":"quantitative","scale":{"domain":[361,22],"nice":false,"zero":false},"axis":{"title":"UMAP2","titleFontSize":15,"titleFontWeight":"normal","titleColor":"#222","labels":false,"ticks":false,"domain":false,"titlePadding":12}}
},
"layer":[
{
"data":{"name":"points"},
"mark":{"type":"circle","size":30,"opacity":1},
"encoding":{"color":{"field":"g","type":"nominal","scale":{"domain":["A1","A2","B","C/D1","D2","D3","D4","E1/E2.1","E2.2","E3","F1","F3"],"range":["#134a12","#1f7a3a","#d0302a","#ffd510","#2bab15","#9fae10","#83a582","#60398f","#a91c3d","#5a0a0a","#c8852f","#6f97cf"]},
"legend":{"orient":"none","legendX":363,"legendY":15,"title":["Epitope","Group"],"titleFontSize":14.5,"titleFontWeight":"normal","titleColor":"#222","titlePadding":12,"symbolType":"circle","symbolSize":85,"symbolOffset":5,"labelFontSize":11.5,"labelColor":"#222","labelOffset":14,"rowPadding":10,"padding":0,"labelLimit":80}}}
},
{
"data":{"name":"mabs"},
"mark":{"type":"circle","size":45,"stroke":"#222","strokeWidth":1.2,"opacity":1},
"encoding":{"color":{"field":"g","type":"nominal","legend":null}}
},
{
"data":{"name":"mabs"},
"mark":{"type":"text","fontSize":14.5,"color":"#1a1a1a"},
"encoding":{"x":{"field":"lx","type":"quantitative"},"y":{"field":"ly","type":"quantitative"},"text":{"field":"name"}}
}
]
},
{
"spacing":67,
"bounds":"flush",
"resolve":{"scale":{"color":"independent"},"legend":{"color":"independent"}},
"hconcat":[
{
"width":154,"height":299,
"view":{"stroke":null},
"title":{"text":"Percentage of epitope groups","anchor":"start","frame":"group","fontSize":13.5,"color":"#222","dx":-6,"offset":-26},
"encoding":{
"x":{"field":"bar","type":"nominal","sort":["BA.5 BTI","BF.7 BTI","BA.1 BTI+\nreinfection","BA.2 BTI+\nreinfection"],"scale":{"paddingInner":0.297,"paddingOuter":0.235},"axis":{"title":null,"labelAngle":-45,"labelAlign":"right","labelBaseline":"top","labelFontSize":11.5,"labelColor":"#222","labelExpr":"split(datum.label,'\\n')","labelOffset":11,"labelPadding":8,"ticks":false,"domain":false}},
"y":{"type":"quantitative","scale":{"domain":[0,100],"range":[299,34],"nice":false},"axis":{"title":"b","titleAngle":0,"titleFontSize":16,"titleFontWeight":"normal","titleColor":"#111","titleX":-37,"titleY":8,"titleAlign":"left","titleBaseline":"alphabetic","values":[0,10,20,30,40,50,60,70,80,90,100],"labelFontSize":11.5,"labelColor":"#222","domainColor":"#111","domainWidth":2,"tickColor":"#111","tickWidth":1.5,"tickSize":5}}
},
"layer":[
{
"data":{"name":"shares"},
"mark":{"type":"bar"},
"encoding":{
"y":{"field":"pct","type":"quantitative","stack":"zero"},
"order":{"field":"o","type":"quantitative"},
"color":{"field":"g","type":"nominal","scale":{"domain":["F3","A1","A2","B","C/D1","D2","D3","D4","E1/E2.1","E2.2","E3","F1"],"range":["#7f9fcb","#173f14","#35764a","#cc5038","#fbdb36","#46a834","#9fa92f","#82a07f","#6b4a8e","#a93250","#5e1a14","#c7924e"]},
"legend":{"orient":"none","legendX":162,"legendY":61,"title":null,"values":["F3","A1","A2","B","C/D1","D2","D3","D4","E1/E2.1"],"symbolType":"square","symbolSize":441,"symbolStrokeWidth":0,"labelFontSize":11.3,"labelColor":"#222","labelOffset":5,"rowPadding":0.8,"padding":0}}
}
},
{
"data":{"name":"weak"},
"mark":{"type":"bar","fillOpacity":0,"stroke":"#111","strokeWidth":2.5,"strokeDash":[6,4]},
"encoding":{"y":{"field":"weak","type":"quantitative"}}
},
{
"data":{"name":"weak"},
"mark":{"type":"text","fontSize":11.5,"fontWeight":"bold","color":"#111"},
"encoding":{"y":{"datum":6},"text":{"field":"label"}}
}
]
},
{
"spacing":0,
"resolve":{"scale":{"color":"independent"},"legend":{"color":"independent"}},
"vconcat":[
{
"width":77,"height":118,
"view":{"stroke":null},
"data":{"values":[{"line":"weakly or"},{"line":"non-neutralizing"},{"line":"group"}]},
"mark":{"type":"text","fontSize":11.5,"color":"#222"},
"encoding":{
"y":{"field":"line","type":"nominal","sort":null,"scale":{"type":"point","padding":0,"range":[86,109]},"axis":null},
"text":{"field":"line"}
}
},
{
"width":77,"height":77,
"view":{"stroke":"#111","strokeWidth":2.5,"strokeDash":[6,4]},
"data":{"values":[{"g":"E2.2"},{"g":"E3"},{"g":"F1"}]},
"encoding":{
"y":{"field":"g","type":"nominal","sort":null,"scale":{"type":"point","padding":0,"range":[15.7,63]},"axis":null}
},
"layer":[
{
"mark":{"type":"square","size":441,"opacity":1},
"encoding":{
"x":{"datum":"swatch","type":"nominal","scale":{"type":"point","padding":0,"domain":["swatch","name"],"range":[13.5,32]},"axis":null},
"color":{"field":"g","type":"nominal","scale":{"domain":["E2.2","E3","F1"],"range":["#a93250","#5e1a14","#c7924e"]},"legend":null}
}
},
{
"mark":{"type":"text","align":"left","fontSize":11.3,"color":"#222"},
"encoding":{
"x":{"datum":"name","type":"nominal"},
"text":{"field":"g"}
}
}
]
}
]
}
]
}
]
}
